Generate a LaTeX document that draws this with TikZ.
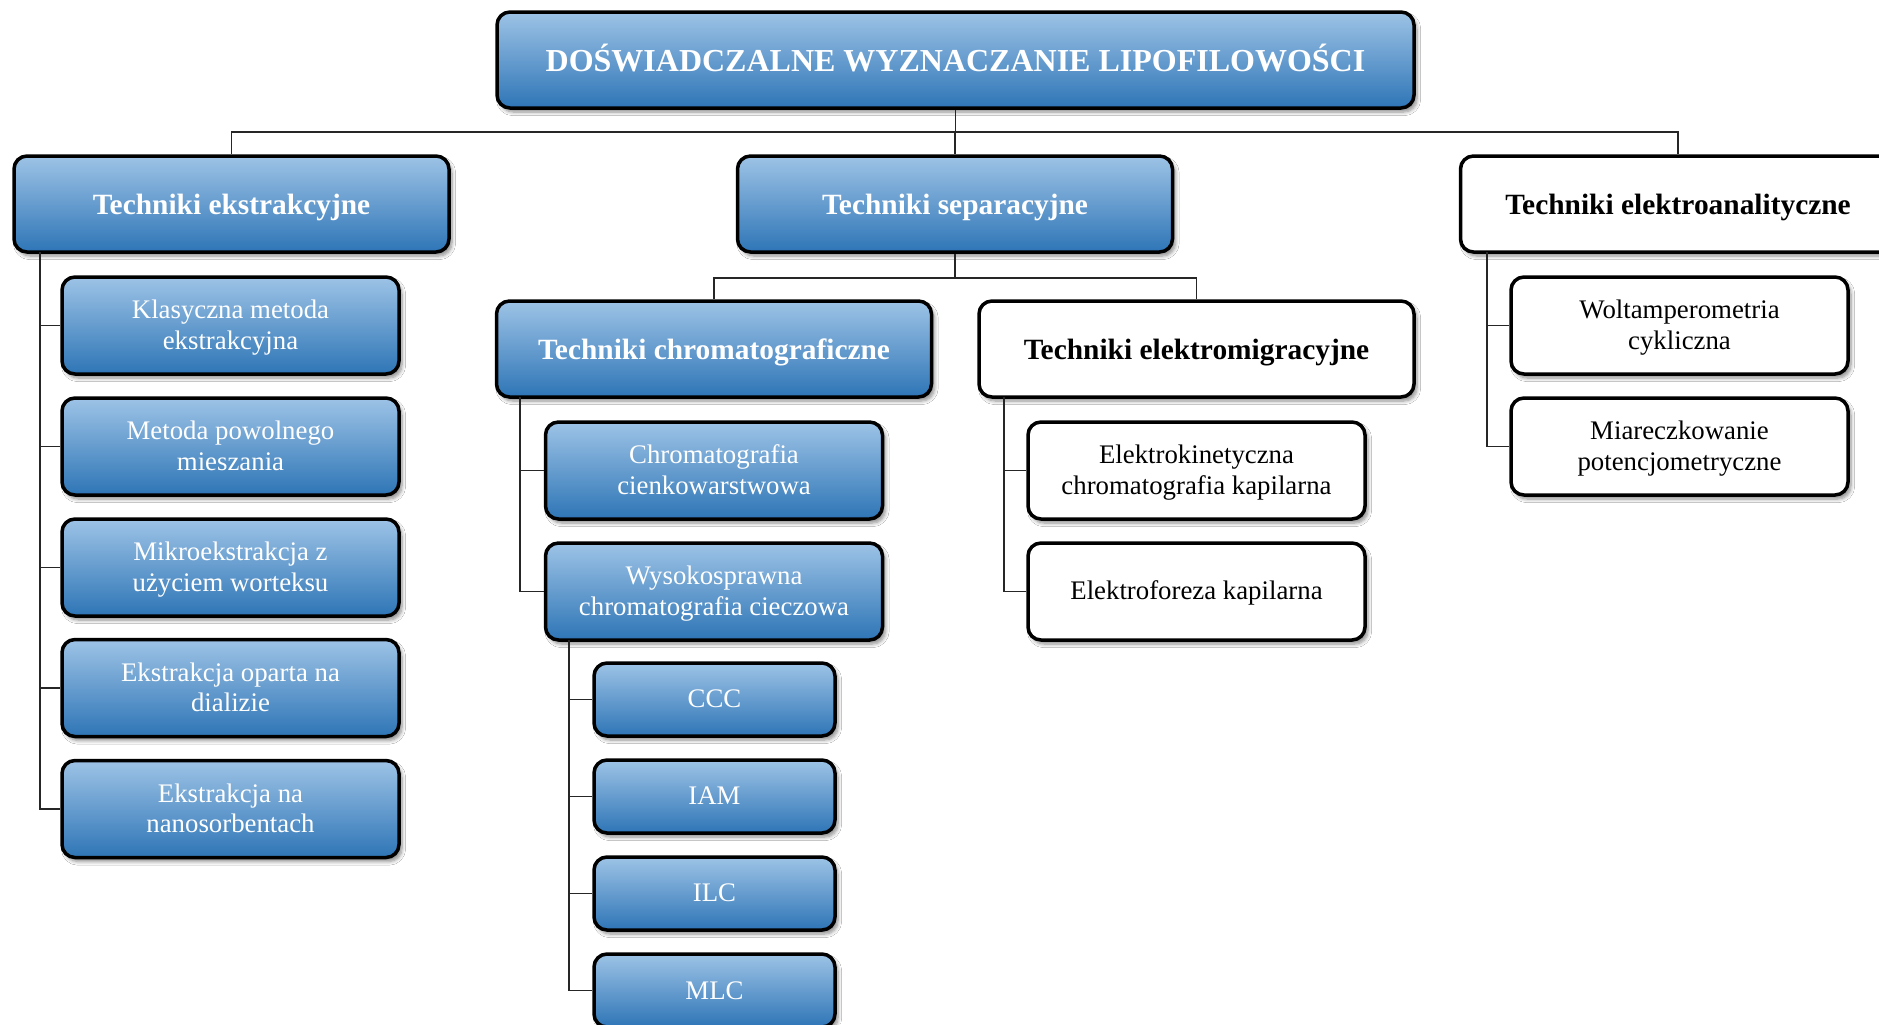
\documentclass[tikz,border=0pt]{standalone}
\usepackage{fontspec}
\setmainfont{Liberation Serif}
\usetikzlibrary{shadows.blur}
\definecolor{bluetop}{RGB}{157,195,230}
\definecolor{bluebot}{RGB}{46,117,182}
\newcommand\boxtxt[2]{\raisebox{-#1}[\height][\depth]{\begin{tabular}{@{}c@{}}#2\end{tabular}}}
\newcommand\boxitem[1]{\boxtxt{1.2pt}{#1}}
\newcommand\boxhead[1]{\boxtxt{1.6pt}{#1}}
\newcommand\boxtitle[1]{\boxtxt{1.8pt}{#1}}
\tikzset{
 box/.style={draw=black, line width=1.75pt, rounded corners=6.5pt, inner sep=0pt,
   blur shadow={shadow xshift=1.5pt, shadow yshift=-2pt, shadow blur steps=6, shadow opacity=45}},
 bluebox/.style={box, top color=bluetop, bottom color=bluebot, text=white},
 whitebox/.style={box, fill=white, text=black},
 titlefont/.style={font=\fontsize{16}{18.4}\selectfont\bfseries},
 headfont/.style={font=\fontsize{14.7}{17}\selectfont\bfseries},
 itemfont/.style={font=\fontsize{13.4}{15.2}\selectfont},
 link/.style={draw=black!85, line width=0.75pt},
 wL/.style={minimum width=217.5pt, minimum height=48pt},
 wM/.style={minimum width=168.5pt, minimum height=48.5pt},
 wS/.style={minimum width=120.5pt, minimum height=36.5pt},
}
\begin{document}
\begin{tikzpicture}[x=0.5pt, y=-0.5pt]
\useasboundingbox (0,0) rectangle (1879,1024);
\fill[white] (0,0) rectangle (1879,1024);
% level 0
\node[bluebox, titlefont, minimum width=458.5pt, minimum height=48pt] (top) at (955.5,60) {\boxtitle{DOŚWIADCZALNE WYZNACZANIE LIPOFILOWOŚCI}};
% level 1
\node[bluebox, headfont, wL] (ek) at (231.5,204) {\boxhead{Techniki ekstrakcyjne}};
\node[bluebox, headfont, wL] (sep) at (955,204) {\boxhead{Techniki separacyjne}};
\node[whitebox, headfont, wL] (ea) at (1678,204) {\boxhead{Techniki elektroanalityczne}};
% extraction
\node[bluebox, itemfont, wM] (k1) at (230.5,325.5) {\boxitem{Klasyczna metoda\\ekstrakcyjna}};
\node[bluebox, itemfont, wM] (k2) at (230.5,446.5) {\boxitem{Metoda powolnego\\mieszania}};
\node[bluebox, itemfont, wM] (k3) at (230.5,567.5) {\boxitem{Mikroekstrakcja z\\użyciem worteksu}};
\node[bluebox, itemfont, wM] (k4) at (230.5,688) {\boxitem{Ekstrakcja oparta na\\dializie}};
\node[bluebox, itemfont, wM] (k5) at (230.5,809) {\boxitem{Ekstrakcja na\\nanosorbentach}};
% separation
\node[bluebox, headfont, wL] (chr) at (714,349) {\boxhead{Techniki chromatograficzne}};
\node[whitebox, headfont, wL] (em) at (1196.5,349) {\boxhead{Techniki elektromigracyjne}};
\node[bluebox, itemfont, wM] (c1) at (714,470.5) {\boxitem{Chromatografia\\cienkowarstwowa}};
\node[bluebox, itemfont, wM] (c2) at (714,591.5) {\boxitem{Wysokosprawna\\chromatografia cieczowa}};
\node[bluebox, itemfont, wS] (h1) at (714.5,699.5) {\boxitem{CCC}};
\node[bluebox, itemfont, wS] (h2) at (714.5,796.5) {\boxitem{IAM}};
\node[bluebox, itemfont, wS] (h3) at (714.5,893.5) {\boxitem{ILC}};
\node[bluebox, itemfont, wS] (h4) at (714.5,990.5) {\boxitem{MLC}};
\node[whitebox, itemfont, wM] (m1) at (1196.5,470.5) {\boxitem{Elektrokinetyczna\\chromatografia kapilarna}};
\node[whitebox, itemfont, wM] (m2) at (1196.5,591.5) {\boxitem{Elektroforeza kapilarna}};
% electroanalytical
\node[whitebox, itemfont, wM] (a1) at (1679.5,325.5) {\boxitem{Woltamperometria\\cykliczna}};
\node[whitebox, itemfont, wM] (a2) at (1679.5,446.5) {\boxitem{Miareczkowanie\\potencjometryczne}};
% connectors
\coordinate (j0) at (955.5,132);
\draw[link] (top.south) -- (j0);
\draw[link] (j0) -| (ek.north);
\draw[link] (j0) -| (sep.north);
\draw[link] (j0) -| (ea.north);
\coordinate (j1) at (955,278);
\draw[link] (sep.south) -- (j1);
\draw[link] (j1) -| (chr.north);
\draw[link] (j1) -| (em.north);
\coordinate (tk) at (40,252);
\foreach \n in {k1,k2,k3,k4,k5} \draw[link] (tk) |- (\n.west);
\coordinate (tc) at (520,397);
\foreach \n in {c1,c2} \draw[link] (tc) |- (\n.west);
\coordinate (th) at (569,640);
\foreach \n in {h1,h2,h3,h4} \draw[link] (th) |- (\n.west);
\coordinate (tm) at (1004,397);
\foreach \n in {m1,m2} \draw[link] (tm) |- (\n.west);
\coordinate (ta) at (1487,252);
\foreach \n in {a1,a2} \draw[link] (ta) |- (\n.west);
\end{tikzpicture}
\end{document}
